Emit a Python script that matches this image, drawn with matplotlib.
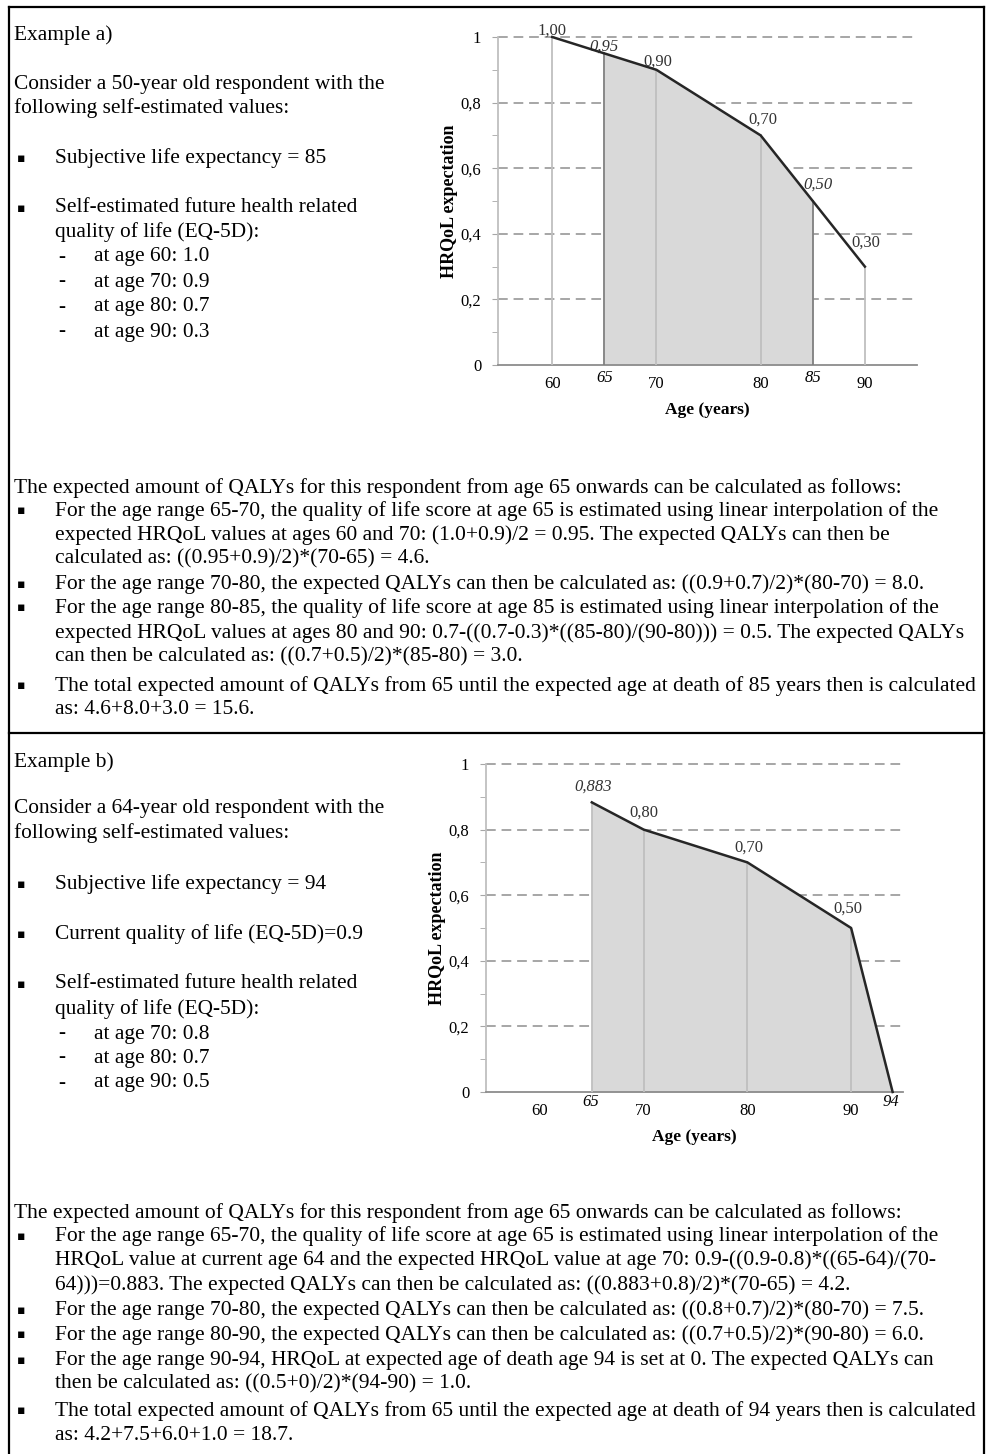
import matplotlib.pyplot as plt
import matplotlib.ticker as mticker
from matplotlib.lines import Line2D

plt.rcParams['font.family'] = ['Liberation Serif', 'DejaVu Sans']

W, H = 991, 1454

# example a) data
ages_a = [60, 65, 70, 80, 85, 90]
hrqol_a = [1.00, 0.95, 0.90, 0.70, 0.50, 0.30]
labels_a = ['1,00', '0,95', '0,90', '0,70', '0,50', '0,30']
interp_a = [False, True, False, False, True, False]
fill_a = (65, 85)

# example b) data
ages_b = [65, 70, 80, 90, 94]
hrqol_b = [0.883, 0.80, 0.70, 0.50, 0.0]
labels_b = ['0,883', '0,80', '0,70', '0,50', '']
interp_b = [True, False, False, False, True]
fill_b = (65, 94)

xticks = [60, 70, 80, 90]
yticks = [0, 0.2, 0.4, 0.6, 0.8, 1.0]
ytick_labels = ['0', '0,2', '0,4', '0,6', '0,8', '1']

# label offsets in pixels (layout only)
offs_a = [(0, 6), (0, 7), (1, 8), (2, 16), (5, 16), (1, 24)]
offs_b = [(1, 16), (0, 17), (1, 15), (-3, 19), (0, 0)]

text_a = [
    ("Example a)", 14, 35),
    ("Consider a 50-year old respondent with the", 14, 84),
    ("following self-estimated values:", 14, 108),
]
bullets_a = [
    ("Subjective life expectancy = 85", 158),
    ("Self-estimated future health related", 208),
]
plain_a = [("quality of life (EQ-5D):", 55, 232)]
dashes_a = [("at age 60: 1.0", 257), ("at age 70: 0.9", 282),
            ("at age 80: 0.7", 307), ("at age 90: 0.3", 332)]

para_a = [
    (None, "The expected amount of QALYs for this respondent from age 65 onwards can be calculated as follows:", 488),
    (True, "For the age range 65-70, the quality of life score at age 65 is estimated using linear interpolation of the", 511),
    (False, "expected HRQoL values at ages 60 and 70: (1.0+0.9)/2 = 0.95. The expected QALYs can then be", 535),
    (False, "calculated as: ((0.95+0.9)/2)*(70-65) = 4.6.", 559),
    (True, "For the age range 70-80, the expected QALYs can then be calculated as: ((0.9+0.7)/2)*(80-70) = 8.0.", 584),
    (True, "For the age range 80-85, the quality of life score at age 85 is estimated using linear interpolation of the", 608),
    (False, "expected HRQoL values at ages 80 and 90: 0.7-((0.7-0.3)*((85-80)/(90-80))) = 0.5. The expected QALYs", 633),
    (False, "can then be calculated as: ((0.7+0.5)/2)*(85-80) = 3.0.", 657),
    (True, "The total expected amount of QALYs from 65 until the expected age at death of 85 years then is calculated", 686),
    (False, "as: 4.6+8.0+3.0 = 15.6.", 710),
]

text_b = [
    ("Example b)", 14, 762),
    ("Consider a 64-year old respondent with the", 14, 809),
    ("following self-estimated values:", 14, 833),
]
bullets_b = [
    ("Subjective life expectancy = 94", 884),
    ("Current quality of life (EQ-5D)=0.9", 934),
    ("Self-estimated future health related", 984),
]
plain_b = [("quality of life (EQ-5D):", 55, 1009)]
dashes_b = [("at age 70: 0.8", 1034), ("at age 80: 0.7", 1058), ("at age 90: 0.5", 1083)]

para_b = [
    (None, "The expected amount of QALYs for this respondent from age 65 onwards can be calculated as follows:", 1213),
    (True, "For the age range 65-70, the quality of life score at age 65 is estimated using linear interpolation of the", 1236),
    (False, "HRQoL value at current age 64 and the expected HRQoL value at age 70: 0.9-((0.9-0.8)*((65-64)/(70-", 1260),
    (False, "64)))=0.883. The expected QALYs can then be calculated as: ((0.883+0.8)/2)*(70-65) = 4.2.", 1285),
    (True, "For the age range 70-80, the expected QALYs can then be calculated as: ((0.8+0.7)/2)*(80-70) = 7.5.", 1310),
    (True, "For the age range 80-90, the expected QALYs can then be calculated as: ((0.7+0.5)/2)*(90-80) = 6.0.", 1335),
    (True, "For the age range 90-94, HRQoL at expected age of death age 94 is set at 0. The expected QALYs can", 1360),
    (False, "then be calculated as: ((0.5+0)/2)*(94-90) = 1.0.", 1384),
    (True, "The total expected amount of QALYs from 65 until the expected age at death of 94 years then is calculated", 1411),
    (False, "as: 4.2+7.5+6.0+1.0 = 18.7.", 1435),
]

FS = 15.4
PFS = 15.5

fig = plt.figure(figsize=(W / 100, H / 100), dpi=100)


def px(x, y):
    return x / W, 1 - y / H


def put(s, x, y, size=FS, **kw):
    fx, fy = px(x, y)
    fig.text(fx, fy, s, fontsize=size, va='center', ha='left', **kw)


def draw_text(head, bullets, plain, dashes, para):
    for s, x, y in head:
        put(s, x, y)
    for s, y in bullets:
        put('\u25aa', 17, y, size=9, family=['DejaVu Sans'])
        put(s, 55, y)
    for s, x, y in plain:
        put(s, x, y)
    for s, y in dashes:
        put('-', 58, y)
        put(s, 94, y)
    for b, s, y in para:
        if b is None:
            put(s, 14, y, size=PFS)
        else:
            if b:
                put('\u25aa', 17, y, size=9, family=['DejaVu Sans'])
            put(s, 55, y, size=PFS)


draw_text(text_a, bullets_a, plain_a, dashes_a, para_a)
draw_text(text_b, bullets_b, plain_b, dashes_b, para_b)

# frame
for xs, ys in [([9, 9], [7, 1454]), ([984, 984], [7, 1454]),
               ([9, 984], [7, 7]), ([9, 984], [733, 733])]:
    fig.add_artist(Line2D([x / W for x in xs], [1 - y / H for y in ys],
                          color='black', lw=1.6))


def draw_chart(rect, ages, vals, labels, interp, offs, span, dark):
    ax = fig.add_axes(rect)
    ax.set_xlim(54.8, 95.0)
    ax.set_ylim(0, 1)
    for y in yticks[1:]:
        ax.axhline(y, color='#a6a6a6', lw=1.4, ls=(0, (5, 3)), zorder=1, clip_on=False)
    lo, hi = span
    xs = [a for a in ages if lo <= a <= hi]
    ys = [v for a, v in zip(ages, vals) if lo <= a <= hi]
    ax.fill_between(xs, ys, 0, color='#d9d9d9', lw=0, zorder=2)
    for a, v in zip(ages, vals):
        c = '#7f7f7f' if a in dark else '#bfbfbf'
        ax.plot([a, a], [0, v], color=c, lw=1.3, zorder=3)
    ax.plot(ages, vals, color='#262626', lw=1.8, zorder=4, clip_on=False)
    for a, v, lab, it, (dx, dy) in zip(ages, vals, labels, interp, offs):
        if lab:
            ax.annotate(lab, (a, v), xytext=(dx * 0.72, dy * 0.72),
                        textcoords='offset points', ha='center', va='center',
                        fontsize=12, style='italic' if it else 'normal',
                        color='#333333', annotation_clip=False)
    ax.set_xticks(xticks)
    ax.set_xticklabels([str(t) for t in xticks], fontsize=12)
    ax.set_yticks(yticks)
    ax.set_yticklabels(ytick_labels, fontsize=12)
    ax.yaxis.set_minor_locator(mticker.MultipleLocator(0.1))
    ax.tick_params(axis='y', which='both', length=4, color='#a6a6a6', pad=8)
    ax.tick_params(axis='x', length=0, pad=8)
    for sp in ['top', 'right']:
        ax.spines[sp].set_visible(False)
    ax.spines['left'].set_color('#bfbfbf')
    ax.spines['bottom'].set_color('#8c8c8c')
    ax.spines['left'].set_linewidth(1.3)
    ax.spines['bottom'].set_linewidth(1.3)
    ax.set_ylabel('HRQoL expectation', fontsize=13, fontweight='bold', labelpad=2)
    ax.set_xlabel('Age (years)', fontsize=12.5, fontweight='bold', labelpad=7)
    return ax


ax1 = draw_chart([498 / W, 1 - 365 / H, 419 / W, 328 / H],
                 ages_a, hrqol_a, labels_a, interp_a, offs_a, fill_a, (65, 85))
for a in (65, 85):
    ax1.annotate(str(a), (a, 0), xytext=(0, -9.5), textcoords='offset points',
                 ha='center', va='center', fontsize=12, style='italic')

ax2 = draw_chart([486 / W, 1 - 1092 / H, 417 / W, 328 / H],
                 ages_b, hrqol_b, labels_b, interp_b, offs_b, fill_b, ())
for a in (65, 94):
    ax2.annotate(str(a), (a, 0), xytext=(-1, -7.5), textcoords='offset points',
                 ha='center', va='center', fontsize=12, style='italic')

fig.savefig('out.png', dpi=100)
